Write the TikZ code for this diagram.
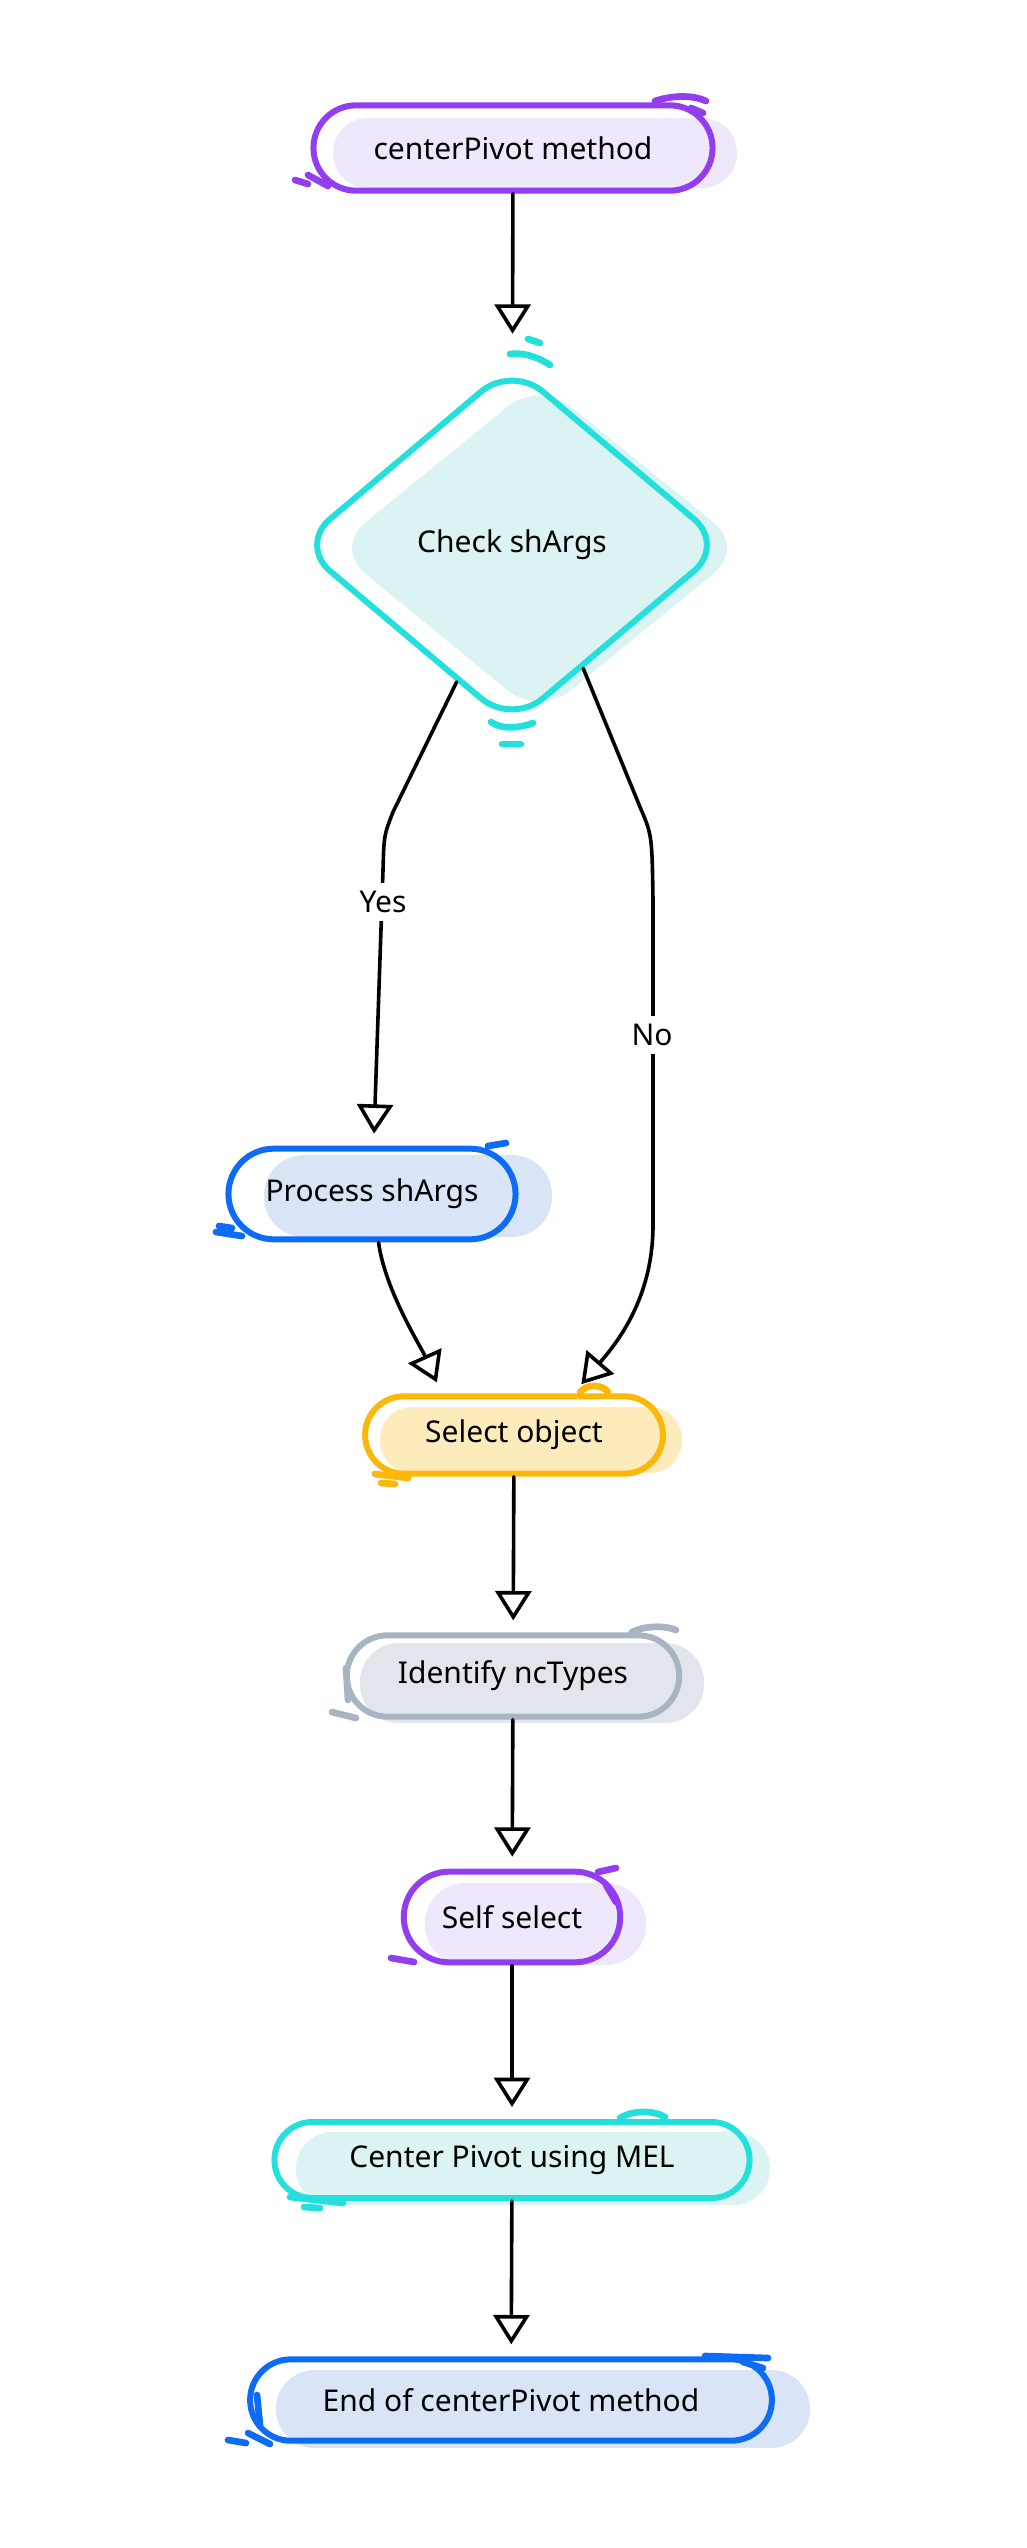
\documentclass[tikz,border=0pt]{standalone}
\usepackage{fontspec}
\setmainfont{Noto Sans}
\usetikzlibrary{arrows.meta,shapes.misc,shapes.geometric}

\definecolor{violetline}{RGB}{147,61,240}
\definecolor{violetfill}{RGB}{239,231,251}
\definecolor{cyanline}{RGB}{36,224,220}
\definecolor{cyanfill}{RGB}{219,243,243}
\definecolor{blueline}{RGB}{12,108,245}
\definecolor{bluefill}{RGB}{218,228,247}
\definecolor{amberline}{RGB}{251,183,10}
\definecolor{amberfill}{RGB}{253,235,188}
\definecolor{greyline}{RGB}{168,180,193}
\definecolor{greyfill}{RGB}{226,230,236}

\tikzset{
	stadium/.style={rounded rectangle, draw=#1, line width=4.5pt, font=\fontsize{22.5}{27}\selectfont},
	flow/.style={line width=2.7pt, line cap=round, line join=round, -{Triangle[open,length=22pt,width=27pt]}, shorten >=9pt},
	scrib/.style={draw=#1, line width=5pt, line cap=round},
	edgelabel/.style={fill=white, inner sep=6pt, font=\fontsize{22.5}{27}\selectfont}
}

\begin{document}
\begin{tikzpicture}[x=0.75pt,y=0.75pt,yscale=-1,xscale=1]
			\useasboundingbox (0,0) rectangle (1026,2548);
			
			%Fills, shifted off the outlines
			\fill[violetfill, rounded corners=26pt] (333,118) rectangle (737,188);
			\fill[cyanfill, rounded corners=30pt] (539,381) -- (745,548) -- (539,716) -- (334,548) -- cycle;
			\fill[bluefill, rounded corners=30pt] (264,1155) rectangle (552,1237);
			\fill[amberfill, rounded corners=24pt] (380,1407) rectangle (682,1473);
			\fill[greyfill, rounded corners=29pt] (360,1643) rectangle (704,1723);
			\fill[violetfill, rounded corners=30pt] (425,1883) rectangle (646,1965);
			\fill[cyanfill, rounded corners=27pt] (296,2132) rectangle (770,2205);
			\fill[bluefill, rounded corners=29pt] (276,2370) rectangle (810,2448);
			
			% Nodes
			\node[stadium=violetline, minimum width=306pt, minimum height=64pt] (start) at (513,148) {centerPivot method};
			\node[diamond, draw=cyanline, line width=4.5pt, rounded corners=30pt, aspect=1.18, minimum width=321pt, minimum height=271pt, font=\fontsize{22.5}{27}\selectfont] (check) at (512,545) {Check shArgs};
			\node[stadium=blueline, minimum width=222pt, minimum height=68pt] (process) at (372,1194) {Process shArgs};
			\node[stadium=amberline, minimum width=230pt, minimum height=58pt] (selobj) at (514,1435) {Select object};
			\node[stadium=greyline, minimum width=256pt, minimum height=61pt] (ident) at (513,1676) {Identify ncTypes};
			\node[stadium=violetline, minimum width=169pt, minimum height=68pt] (selfsel) at (512,1917) {Self select};
			\node[stadium=cyanline, minimum width=363pt, minimum height=57pt] (melpivot) at (512,2160) {Center Pivot using MEL};
			\node[stadium=blueline, minimum width=398pt, minimum height=61pt] (finish) at (511,2400) {End of centerPivot method};
			
			%Scribbles
			\draw[scrib=violetline] (655,101) .. controls (673,95) and (693,95) .. (706,101);
			\draw[scrib=violetline] (691,108) -- (703,113);
			\draw[scrib=violetline] (295,180) -- (308,184);
			\draw[scrib=violetline] (308,175) -- (328,186);
			\draw[scrib=cyanline] (528,339) -- (540,343);
			\draw[scrib=cyanline] (510,354) .. controls (524,352) and (540,358) .. (550,365);
			\draw[scrib=cyanline] (491,722) .. controls (502,730) and (520,728) .. (533,723);
			\draw[scrib=cyanline] (502,744) -- (521,744);
			\draw[scrib=blueline] (488,1146) -- (506,1143);
			\draw[scrib=blueline] (216,1232) -- (242,1236);
			\draw[scrib=blueline] (219,1226) -- (232,1228);
			\draw[scrib=amberline] (580,1392) .. controls (588,1383) and (603,1385) .. (608,1392);
			\draw[scrib=amberline] (375,1474) -- (408,1478);
			\draw[scrib=amberline] (381,1483) -- (395,1484);
			\draw[scrib=greyline] (632,1632) .. controls (644,1626) and (664,1625) .. (676,1630);
			\draw[scrib=greyline] (332,1712) -- (356,1718);
			\draw[scrib=greyline] (346,1668) -- (348,1700);
			\draw[scrib=violetline] (598,1872) -- (616,1868);
			\draw[scrib=violetline] (606,1885) -- (616,1902);
			\draw[scrib=violetline] (391,1958) -- (414,1962);
			\draw[scrib=cyanline] (620,2118) .. controls (633,2110) and (653,2110) .. (665,2117);
			\draw[scrib=cyanline] (290,2197) -- (343,2203);
			\draw[scrib=cyanline] (304,2207) -- (320,2208);
			\draw[scrib=blueline] (705,2356) -- (768,2358);
			\draw[scrib=blueline] (743,2362) -- (763,2368);
			\draw[scrib=blueline] (228,2440) -- (246,2443);
			\draw[scrib=blueline] (248,2433) -- (270,2444);
			\draw[scrib=blueline] (257,2395) -- (260,2425);
			
			%Connectors
			\draw[flow, shorten >=21pt] (start) -- (check);
			\draw[flow] (check.248) -- (393,812) .. controls (384,835) .. (383,870) -- (process);
			\draw[flow] (check.300) -- (640,807) .. controls (652,835) .. (653,900) -- (653,1225) .. controls (653,1300) and (615,1345) .. (selobj.35);
			\draw[flow] (process) .. controls (385,1290) and (420,1345) .. (selobj.150);
			\draw[flow] (selobj) -- (ident);
			\draw[flow] (ident) -- (selfsel);
			\draw[flow] (selfsel) -- (melpivot);
			\draw[flow] (melpivot) -- (finish);
			
			% Text Node
			\node[edgelabel] (yes) at (383,902) {Yes};
			% Text Node
			\node[edgelabel] (no) at (652,1035) {No};
		\end{tikzpicture}
\end{document}
